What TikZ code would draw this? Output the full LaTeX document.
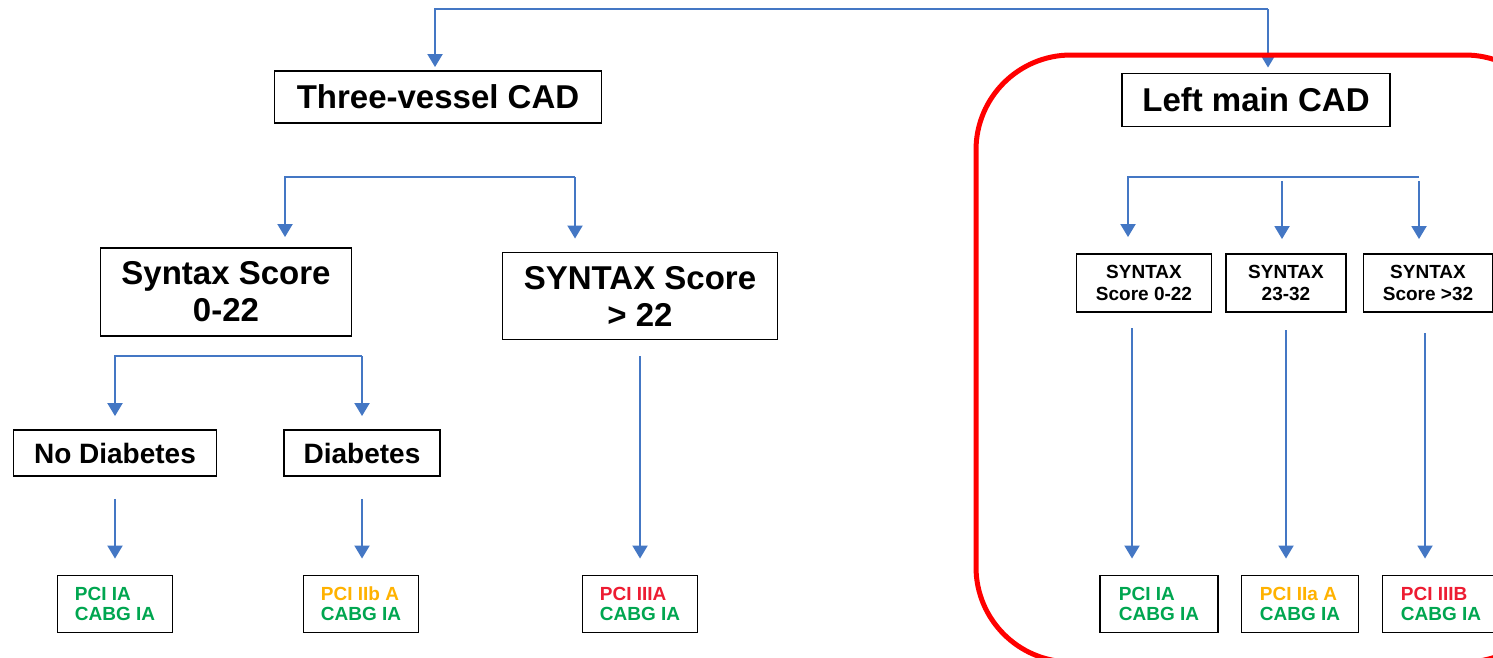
\documentclass[tikz,border=0pt]{standalone}
\usepackage{fontspec}
\setmainfont{Liberation Sans}
\usepackage{xcolor}
\usetikzlibrary{arrows.meta,backgrounds}
\definecolor{linkblue}{RGB}{68,119,196}
\definecolor{recgreen}{RGB}{0,166,80}
\definecolor{recamber}{RGB}{255,178,0}
\definecolor{recred}{RGB}{237,28,50}
\tikzset{
  box/.style={rectangle,draw,line width=1.9pt,align=center,inner sep=0pt,
    fill=white},
  flow/.style={-{Triangle[length=13pt,width=15pt]},line width=2pt,
    draw=linkblue},
  frame/.style={draw=red,line width=5pt,rounded corners=95pt}}

\begin{document}
\begin{tikzpicture}[x=1pt,y=-1pt,
  mainbox/.style={box,font=\fontsize{33}{37}\selectfont\bfseries},
  diabbox/.style={box,font=\fontsize{28}{32}\selectfont\bfseries,
    minimum height=46},
  lmbox/.style={box,font=\fontsize{19}{22}\selectfont\bfseries,
    minimum height=58},
  recbox/.style={box,align=left,font=\fontsize{19}{20}\selectfont\bfseries,
    minimum height=57}]

  \useasboundingbox (0,0) rectangle (1493,657);

  \draw[frame] (976,55) rectangle (1560,662);

  \node[mainbox,minimum width=327,minimum height=52] (tv) at (438,97)
    {Three-vessel CAD};
  \node[mainbox,minimum width=268,minimum height=53] (lm) at (1256,100)
    {Left main CAD};

  \node[mainbox,minimum width=251,minimum height=88] (slow) at (226,292)
    {Syntax Score\\0-22};
  \node[mainbox,minimum width=275,minimum height=87] (shigh) at (640,296)
    {SYNTAX Score\\> 22};
  \node[diabbox,minimum width=203] (nodiab) at (115,453) {No Diabetes};
  \node[diabbox,minimum width=156] (diab) at (362,453) {Diabetes};

  \node[lmbox,minimum width=135] (lma) at (1144,283) {SYNTAX\\Score 0-22};
  \node[lmbox,minimum width=120] (lmb) at (1286,283) {SYNTAX\\23-32};
  \node[lmbox,minimum width=129] (lmc) at (1428,283) {SYNTAX\\Score >32};

  \node[recbox,minimum width=115] (reca) at (115,604)
    {\textcolor{recgreen}{PCI IA}\\\textcolor{recgreen}{CABG IA}};
  \node[recbox,minimum width=115] (recb) at (361,604)
    {\textcolor{recamber}{PCI IIb A}\\\textcolor{recgreen}{CABG IA}};
  \node[recbox,minimum width=115] (recc) at (640,604)
    {\textcolor{recred}{PCI IIIA}\\\textcolor{recgreen}{CABG IA}};
  \node[recbox,minimum width=118] (recd) at (1159,604)
    {\textcolor{recgreen}{PCI IA}\\\textcolor{recgreen}{CABG IA}};
  \node[recbox,minimum width=117] (rece) at (1300,604)
    {\textcolor{recamber}{PCI IIa A}\\\textcolor{recgreen}{CABG IA}};
  \node[recbox,minimum width=117] (recf) at (1441,604)
    {\textcolor{recred}{PCI IIIB}\\\textcolor{recgreen}{CABG IA}};

  % fork points
  \coordinate (splitL) at (435,9);
  \coordinate (splitR) at (1268,9);
  \coordinate (forkA) at (285,177);
  \coordinate (forkB) at (575,177);
  \coordinate (forkC) at (115,356);
  \coordinate (forkD) at (362,356);
  \coordinate (forkE) at (1128,177);
  \coordinate (forkF) at (1419,177);
  \coordinate (forkG) at (1282,181);
  \coordinate (forkH) at (1419,181);
  \coordinate (dropA) at (1132,328);
  \coordinate (dropB) at (1286,330);
  \coordinate (dropC) at (1425,333);

  \begin{scope}[on background layer]
  \draw[flow,shorten >=3pt] (splitR) -- (splitL) -- (splitL |- tv.north);
  \draw[flow,shorten >=5pt] (splitR) -- (splitR |- lm.north);
  \draw[flow,shorten >=10pt] (forkB) -- (forkA) -- (forkA |- slow.north);
  \draw[flow,shorten >=13pt] (forkB) -- (forkB |- shigh.north);
  \draw[flow,shorten >=13pt] (forkD) -- (forkC) -- (forkC |- nodiab.north);
  \draw[flow,shorten >=13pt] (forkD) -- (forkD |- diab.north);
  \draw[flow,shorten <=22pt,shorten >=16pt] (nodiab) -- (reca);
  \draw[flow,shorten <=22pt,shorten >=16pt]
    (diab.south) -- (diab.south |- recb.north);
  \draw[flow,shorten <=16pt,shorten >=16pt] (shigh) -- (recc);
  \draw[flow,shorten >=16pt] (forkF) -- (forkE) -- (forkE |- lma.north);
  \draw[flow,shorten >=14pt] (forkG) -- (forkG |- lmb.north);
  \draw[flow,shorten >=14pt] (forkH) -- (forkH |- lmc.north);
  \draw[flow,shorten >=16pt] (dropA) -- (dropA |- recd.north);
  \draw[flow,shorten >=16pt] (dropB) -- (dropB |- rece.north);
  \draw[flow,shorten >=16pt] (dropC) -- (dropC |- recf.north);
  \end{scope}
\end{tikzpicture}
\end{document}
